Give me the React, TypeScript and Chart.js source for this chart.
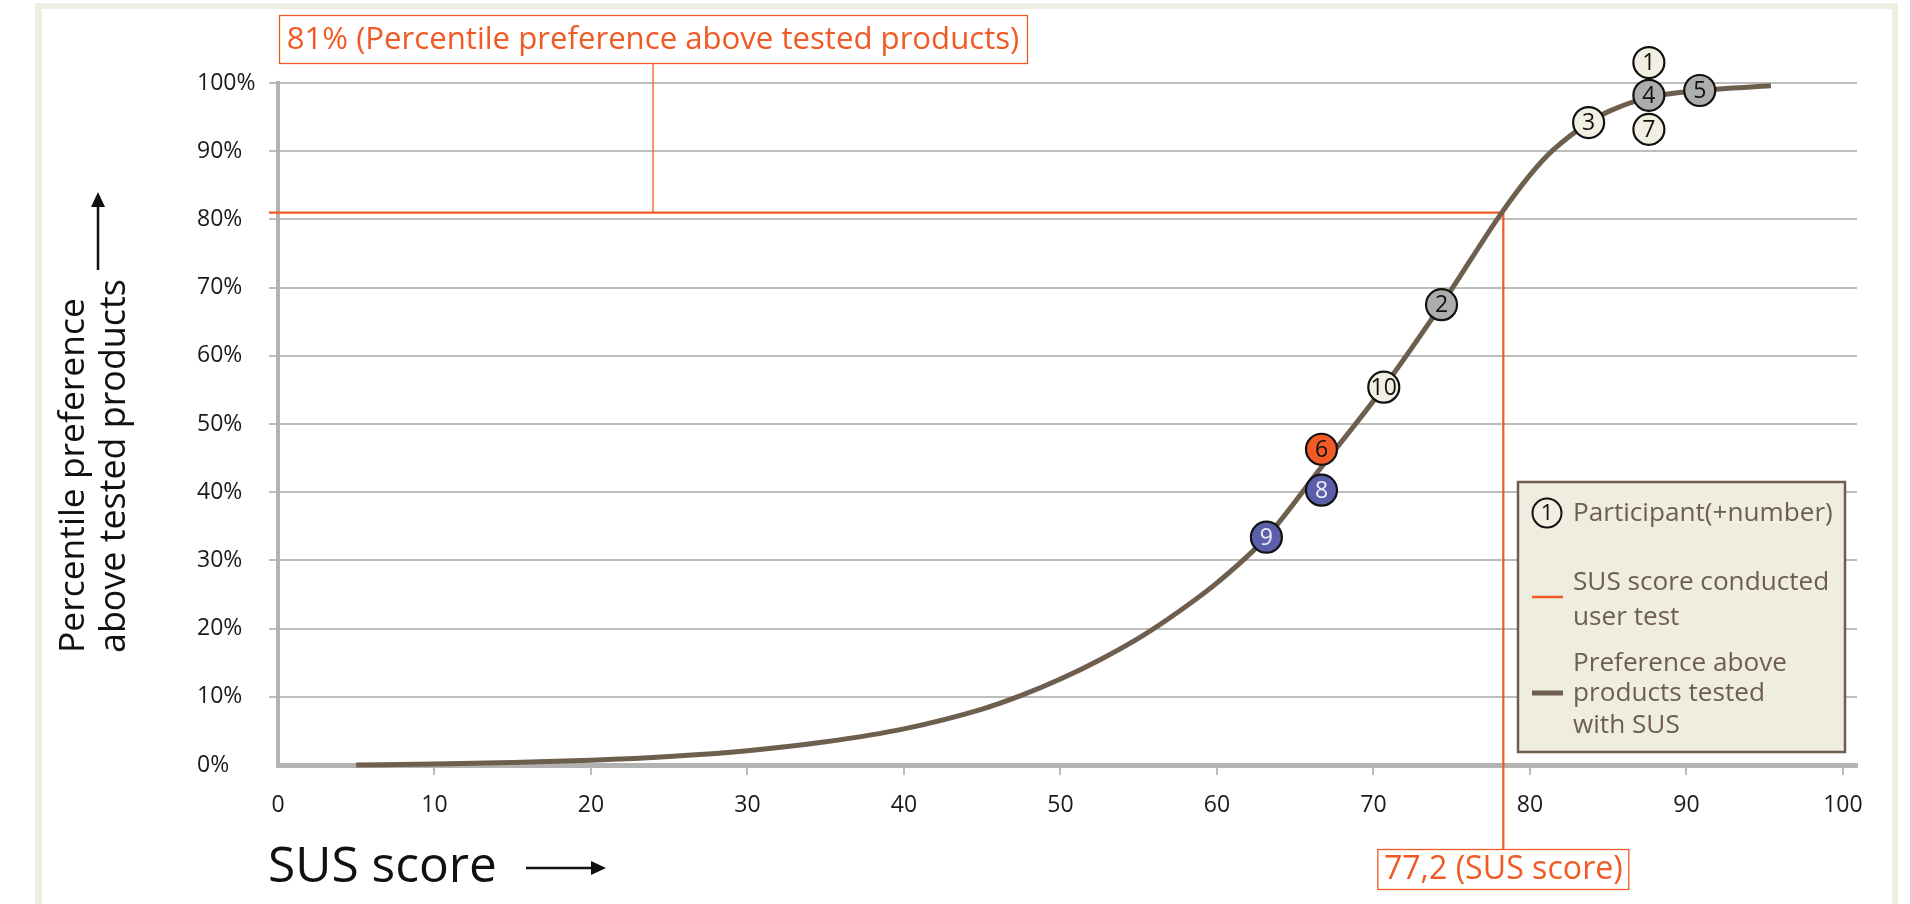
import React, { useEffect, useRef } from "react";
import { Chart, registerables } from "chart.js";

Chart.register(...registerables);

// ---------- data ----------
const xTickValues = [0, 10, 20, 30, 40, 50, 60, 70, 80, 90, 100];
const yTickValues = [0, 10, 20, 30, 40, 50, 60, 70, 80, 90, 100];

const curveScores = [5, 10, 15, 20, 25, 30, 35, 40, 45, 47.5, 50, 52.5, 55, 57.5, 60, 63.16, 66.68, 70.66, 74.35, 78.2, 80, 81.4, 83.75, 85, 87.6, 90.85, 95.4];
const curvePercentiles = [0, 0.15, 0.35, 0.7, 1.25, 2.1, 3.4, 5.3, 8.2, 10.2, 12.6, 15.4, 18.6, 22.4, 26.7, 33.4, 43.7, 55.4, 67.5, 81.0, 86.5, 90.0, 94.2, 95.8, 97.9, 98.9, 99.6];

const participantLabels = ["1", "7", "4", "5", "3", "2", "10", "6", "8", "9"];
const participantScores = [87.6, 87.6, 87.6, 90.85, 83.75, 74.35, 70.66, 66.68, 66.68, 63.16];
const participantPercentiles = [103.0, 93.2, 98.2, 98.9, 94.2, 67.5, 55.4, 46.3, 40.3, 33.4];
const participantGroups = ["cream", "cream", "gray", "gray", "cream", "gray", "cream", "orange", "blue", "blue"];

const markerScore = 78.3;
const markerPercentile = 81;
const markerPercentLabel = "81% (Percentile preference above tested products)";
const markerScoreLabel = "77,2 (SUS score)";

const yTitleLines = ["Percentile preference", "above tested products"];
const xTitle = "SUS score";
const legendParticipant = "Participant(+number)";
const legendMarkerLines = ["SUS score conducted", "user test"];
const legendCurveLines = ["Preference above", "products tested", "with SUS"];

// ---------- styles ----------
const FONT = '"Open Sans", sans-serif';
const ORANGE = "#F05A24";
const BROWN = "#6E5E4E";
const GRID = "#BDBDBD";
const AXIS = "#B3B3B3";
const FILL: Record<string, string> = { cream: "#F1EFE2", gray: "#ADADAD", orange: "#F15A24", blue: "#5B5FA9" };
const NUMCOLOR: Record<string, string> = { cream: "#111111", gray: "#111111", orange: "#111111", blue: "#ECECF6" };
const CIRCLE_R = 15.5;

function fitFont(ctx: CanvasRenderingContext2D, text: string, width: number) {
  ctx.font = `100px ${FONT}`;
  const w = ctx.measureText(text).width;
  const size = (100 * width) / w;
  ctx.font = `${size}px ${FONT}`;
  return size;
}

function arrow(ctx: CanvasRenderingContext2D, x1: number, y1: number, x2: number, y2: number) {
  const ang = Math.atan2(y2 - y1, x2 - x1);
  const hl = 15, hw = 7;
  ctx.beginPath();
  ctx.moveTo(x1, y1);
  ctx.lineTo(x2 - Math.cos(ang) * hl * 0.8, y2 - Math.sin(ang) * hl * 0.8);
  ctx.stroke();
  ctx.beginPath();
  ctx.moveTo(x2, y2);
  ctx.lineTo(x2 - Math.cos(ang) * hl - Math.sin(ang) * hw, y2 - Math.sin(ang) * hl + Math.cos(ang) * hw);
  ctx.lineTo(x2 - Math.cos(ang) * hl + Math.sin(ang) * hw, y2 - Math.sin(ang) * hl - Math.cos(ang) * hw);
  ctx.closePath();
  ctx.fill();
}

const markerPlugin = {
  id: "markerLines",
  beforeDatasetsDraw(chart: any) {
    const { ctx, scales } = chart;
    const x = scales.x, y = scales.y;
    const mx = x.getPixelForValue(markerScore);
    const my = y.getPixelForValue(markerPercentile);
    ctx.save();
    ctx.strokeStyle = ORANGE;
    ctx.lineWidth = 2.2;
    ctx.beginPath();
    ctx.moveTo(x.left - 9, my);
    ctx.lineTo(mx, my);
    ctx.stroke();
    ctx.beginPath();
    ctx.moveTo(mx, my);
    ctx.lineTo(mx, 849);
    ctx.stroke();
    // connector to top box
    ctx.lineWidth = 1.3;
    ctx.beginPath();
    ctx.moveTo(653, 63);
    ctx.lineTo(653, my);
    ctx.stroke();
    ctx.restore();
  },
  afterDatasetsDraw(chart: any) {
    const { ctx } = chart;
    const meta = chart.getDatasetMeta(0);
    ctx.save();
    ctx.textAlign = "center";
    ctx.textBaseline = "middle";
    meta.data.forEach((el: any, i: number) => {
      const g = participantGroups[i];
      ctx.beginPath();
      ctx.arc(el.x, el.y, CIRCLE_R, 0, Math.PI * 2);
      ctx.fillStyle = FILL[g];
      ctx.fill();
      ctx.lineWidth = 2.2;
      ctx.strokeStyle = "#111111";
      ctx.stroke();
      ctx.font = `23px ${FONT}`;
      ctx.fillStyle = NUMCOLOR[g];
      ctx.fillText(participantLabels[i], el.x, el.y + 1);
    });
    ctx.restore();
  },
  afterDraw(chart: any) {
    const { ctx, scales } = chart;
    const mx = scales.x.getPixelForValue(markerScore);
    ctx.save();
    // top annotation box
    ctx.fillStyle = "#FFFFFF";
    ctx.strokeStyle = ORANGE;
    ctx.lineWidth = 1.3;
    ctx.fillRect(279, 15, 748, 48);
    ctx.strokeRect(279.5, 15.5, 748, 48);
    ctx.fillStyle = ORANGE;
    ctx.textAlign = "center";
    ctx.textBaseline = "middle";
    fitFont(ctx, markerPercentLabel, 733);
    ctx.fillText(markerPercentLabel, 653, 40);
    // bottom annotation box
    ctx.fillStyle = "#FFFFFF";
    ctx.fillRect(mx - 125.5, 849, 251, 40);
    ctx.strokeRect(mx - 125.5, 849.5, 251, 40);
    ctx.fillStyle = ORANGE;
    fitFont(ctx, markerScoreLabel, 239);
    ctx.fillText(markerScoreLabel, mx, 870);

    // legend
    ctx.fillStyle = "#EFECE0";
    ctx.fillRect(1518, 482, 327, 270);
    ctx.strokeStyle = BROWN;
    ctx.lineWidth = 2.5;
    ctx.strokeRect(1518, 482, 327, 270);
    ctx.beginPath();
    ctx.arc(1547, 513, 14.5, 0, Math.PI * 2);
    ctx.fillStyle = "#F1EFE2";
    ctx.fill();
    ctx.lineWidth = 2;
    ctx.strokeStyle = "#111";
    ctx.stroke();
    ctx.fillStyle = "#111";
    ctx.font = `22px ${FONT}`;
    ctx.fillText("1", 1547, 514);
    ctx.strokeStyle = ORANGE;
    ctx.lineWidth = 2.5;
    ctx.beginPath();
    ctx.moveTo(1532, 597);
    ctx.lineTo(1563, 597);
    ctx.stroke();
    ctx.strokeStyle = BROWN;
    ctx.lineWidth = 5;
    ctx.beginPath();
    ctx.moveTo(1532, 693);
    ctx.lineTo(1563, 693);
    ctx.stroke();
    ctx.fillStyle = BROWN;
    ctx.textAlign = "left";
    fitFont(ctx, legendParticipant, 260);
    ctx.fillText(legendParticipant, 1573, 514);
    ctx.fillText(legendMarkerLines[0], 1573, 583);
    ctx.fillText(legendMarkerLines[1], 1573, 618);
    ctx.fillText(legendCurveLines[0], 1573, 664);
    ctx.fillText(legendCurveLines[1], 1573, 694);
    ctx.fillText(legendCurveLines[2], 1573, 726);

    // axis titles
    ctx.fillStyle = "#111";
    ctx.strokeStyle = "#111";
    ctx.lineWidth = 2.5;
    ctx.textAlign = "left";
    ctx.textBaseline = "middle";
    fitFont(ctx, xTitle, 229);
    ctx.fillText(xTitle, 268, 868);
    arrow(ctx, 526, 868, 606, 868);

    ctx.save();
    fitFont(ctx, yTitleLines[0], 355);
    ctx.translate(74, 653);
    ctx.rotate(-Math.PI / 2);
    ctx.fillText(yTitleLines[0], 0, 0);
    ctx.restore();
    ctx.save();
    fitFont(ctx, yTitleLines[1], 374);
    ctx.translate(115, 653);
    ctx.rotate(-Math.PI / 2);
    ctx.fillText(yTitleLines[1], 0, 0);
    ctx.restore();
    arrow(ctx, 98, 270, 98, 192);
    ctx.restore();
  },
};

export default function App() {
  const ref = useRef<HTMLCanvasElement | null>(null);

  useEffect(() => {
    if (!ref.current) return;
    const chart = new Chart(ref.current, {
      type: "scatter",
      data: {
        datasets: [
          {
            label: "Participants",
            data: participantScores.map((x, i) => ({ x, y: participantPercentiles[i] })),
            pointRadius: 0,
            pointHoverRadius: 0,
            showLine: false,
            clip: false,
          } as any,
          {
            label: "Preference above products tested with SUS",
            data: curveScores.map((x, i) => ({ x, y: curvePercentiles[i] })),
            showLine: true,
            pointRadius: 0,
            pointHoverRadius: 0,
            borderColor: BROWN,
            borderWidth: 5,
            cubicInterpolationMode: "monotone",
            fill: false,
            clip: false,
          } as any,
        ],
      },
      options: {
        responsive: false,
        animation: false,
        events: [],
        layout: { padding: { left: 197, right: 53, top: 83, bottom: 79 } },
        plugins: { legend: { display: false }, tooltip: { enabled: false } },
        scales: {
          x: {
            type: "linear",
            min: 0,
            max: 100.9,
            afterFit: (s: any) => { s.height = 60; },
            afterBuildTicks: (s: any) => { s.ticks = xTickValues.map((v) => ({ value: v })); },
            grid: {
              drawOnChartArea: false,
              drawTicks: true,
              tickLength: 10,
              lineWidth: 2,
              color: (c: any) => (c.tick && c.tick.value === 0 ? "rgba(0,0,0,0)" : GRID),
            },
            border: { display: true, color: AXIS, width: 5 },
            ticks: { font: { family: FONT, size: 23 }, color: "#1a1a1a", padding: 17, maxRotation: 0, autoSkip: false },
          },
          y: {
            type: "linear",
            min: 0,
            max: 100,
            afterFit: (s: any) => { s.width = 81; },
            afterBuildTicks: (s: any) => { s.ticks = yTickValues.map((v) => ({ value: v })); },
            grid: {
              drawTicks: true,
              tickLength: 9,
              lineWidth: 2,
              color: (c: any) => (c.tick && c.tick.value === 0 ? "rgba(0,0,0,0)" : GRID),
            },
            border: { display: true, color: AXIS, width: 4 },
            ticks: {
              crossAlign: "far",
              font: { family: FONT, size: 23 },
              color: "#1a1a1a",
              callback: (v: any) => `${v}%`,
              autoSkip: false,
            },
          },
        },
      },
      plugins: [markerPlugin],
    } as any);
    return () => chart.destroy();
  }, []);

  return (
    <div style={{ position: "fixed", left: 0, top: 0, width: 1910, height: 904, background: "#FFFFFF", overflow: "hidden" }}>
      <div
        style={{
          position: "absolute",
          left: 35,
          top: 3,
          width: 1863,
          height: 960,
          boxSizing: "border-box",
          borderStyle: "solid",
          borderColor: "#F0EEE2",
          borderWidth: "6px 6px 6px 7px",
          background: "#FFFFFF",
        }}
      />
      <canvas ref={ref} width={1910} height={904} style={{ position: "absolute", left: 0, top: 0, width: 1910, height: 904 }} />
    </div>
  );
}
